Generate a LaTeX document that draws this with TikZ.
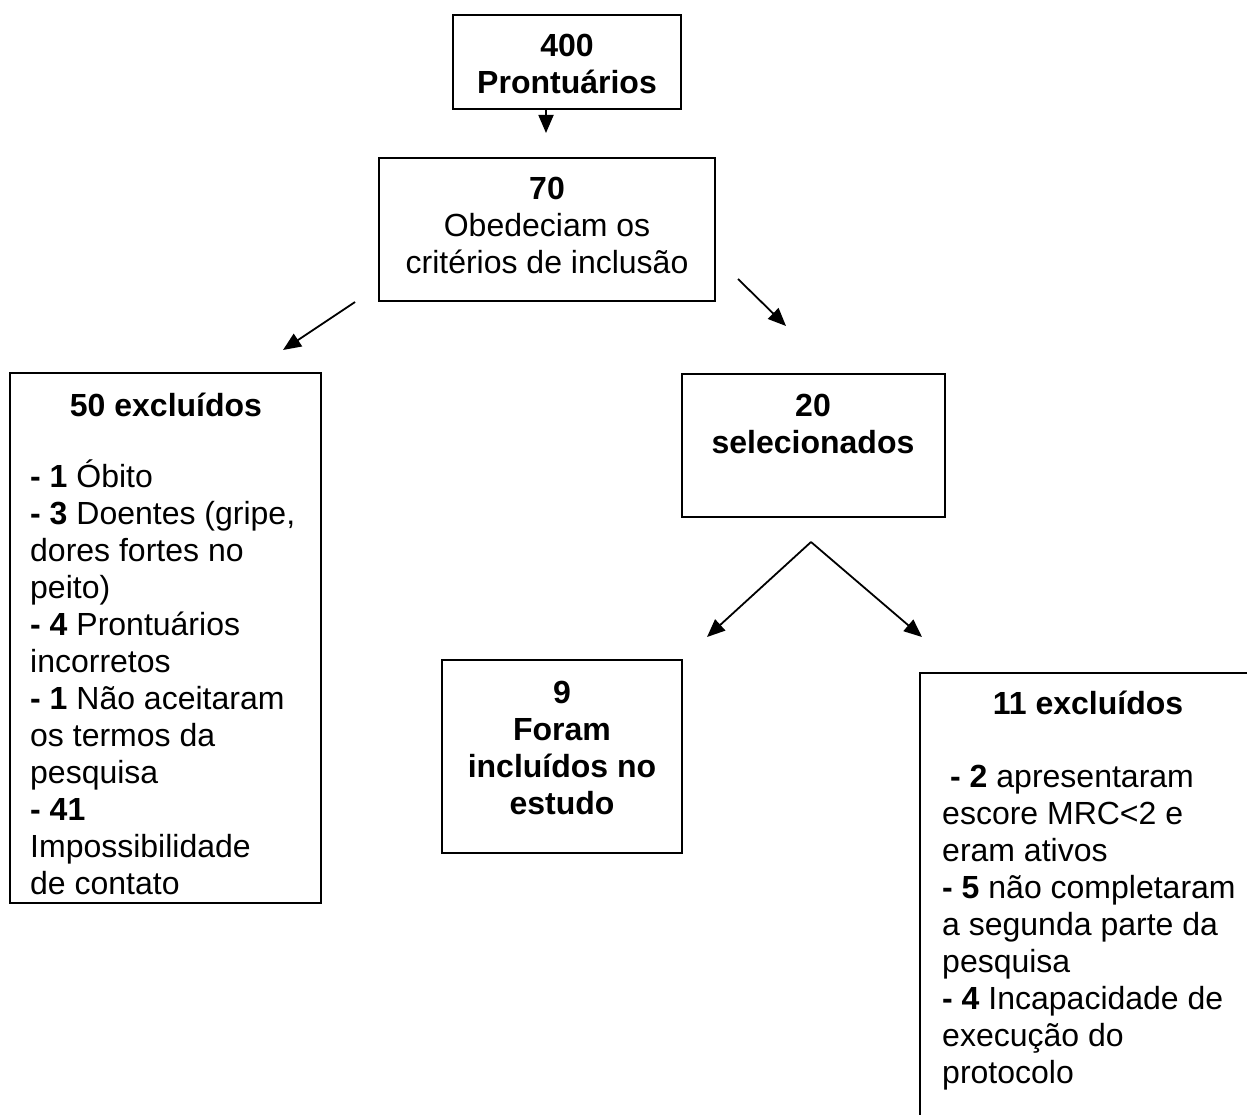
\documentclass[tikz,border=0pt]{standalone}
\usepackage{fontspec}
\setmainfont{Liberation Sans}
\usetikzlibrary{arrows.meta}
\begin{document}
\begin{tikzpicture}[x=1pt,y=-1pt,
  box/.style={draw,line width=2pt,inner sep=0pt,outer sep=0pt},
  txt/.style={font=\fontsize{32}{37}\selectfont,inner sep=0pt,align=left,anchor=base west},
  ctxt/.style={font=\fontsize{32}{37}\selectfont,inner sep=0pt,align=center,anchor=base},
  btxt/.style={ctxt,font=\fontsize{32}{37}\selectfont\bfseries},
  arr/.style={line width=1.8pt,-{Triangle[length=18pt,width=15pt]}}]
\useasboundingbox (0,0) rectangle (1247,1115);
\clip (0,0) rectangle (1247,1115);
% boxes
\node[box,minimum width=228pt,minimum height=94pt] (b1) at (567,62) {};
\node[box,minimum width=336pt,minimum height=143pt] (b2) at (547,229.5) {};
\node[box,minimum width=311pt,minimum height=530pt] (bL) at (165.5,638) {};
\node[box,minimum width=263pt,minimum height=143pt] (bS) at (813.5,445.5) {};
\node[box,minimum width=240pt,minimum height=193pt] (bI) at (562,756.5) {};
\node[box,minimum width=336pt,minimum height=467pt] (bR) at (1088,906.5) {};
% texts (anchored at the baseline of the last line)
\node[btxt] (t1) at (567,94) {400\\Prontuários};
\node[ctxt] (t2) at (547,274) {\textbf{70}\\Obedeciam os\\critérios de inclusão};
\node[btxt] (tLh) at (166,416) {50 excluídos};
\node[txt] (tL) at (30,894) {\textbf{- 1} Óbito\\
\textbf{- 3} Doentes (gripe,\\
dores fortes no\\
peito)\\
\textbf{- 4} Prontuários\\
incorretos\\
\textbf{- 1} Não aceitaram\\
os termos da\\
pesquisa\\
\textbf{- 41}\\
Impossibilidade\\
de contato};
\node[btxt] (tS) at (813,453) {20\\selecionados};
\node[btxt] (tI) at (562,814) {9\\Foram\\incluídos no\\estudo};
\node[btxt] (tRh) at (1088,714) {11 excluídos};
\node[txt] (tR) at (942,1083) {\hspace{8pt}\textbf{- 2} apresentaram\\
escore MRC<2 e\\
eram ativos\\
\textbf{- 5} não completaram\\
a segunda parte da\\
pesquisa\\
\textbf{- 4} Incapacidade de\\
execução do\\
protocolo};
% arrow coordinates
\coordinate (a1s) at (546,110);
\coordinate (a1e) at (546,133);
\coordinate (a2s) at (355,302);
\coordinate (a2e) at (283,350);
\coordinate (a3s) at (738,279);
\coordinate (a3e) at (786,326);
\coordinate (apex) at (811,542);
\coordinate (a4e) at (707,637);
\coordinate (a5e) at (922,637);
\draw[arr] (a1s) -- (a1e);
\draw[arr] (a2s) -- (a2e);
\draw[arr] (a3s) -- (a3e);
\draw[arr] (apex) -- (a4e);
\draw[arr] (apex) -- (a5e);
\end{tikzpicture}
\end{document}
